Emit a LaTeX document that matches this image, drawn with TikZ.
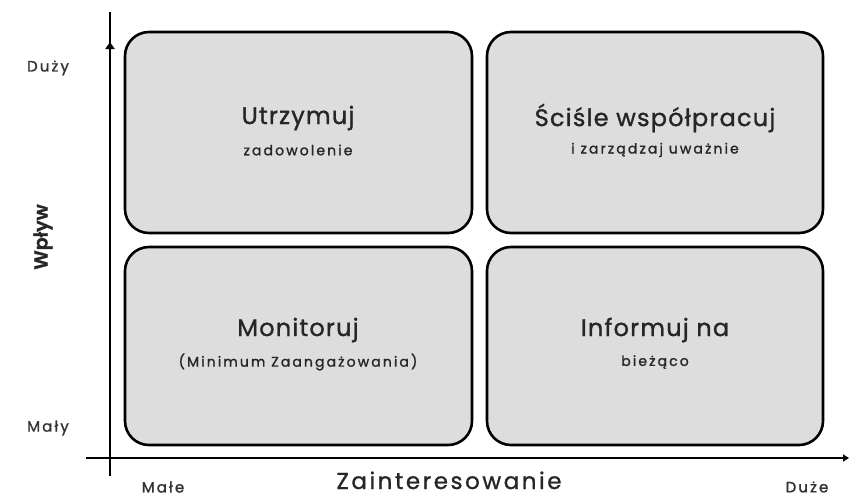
\documentclass[tikz,border=0pt]{standalone}
\usepackage{fontspec}
\setmainfont{Poppins}[FakeBold=1.2]
\newfontfamily\spacedA{Poppins}[FakeBold=1.2,LetterSpace=5]
\newfontfamily\spacedB{Poppins}[FakeBold=1.3,LetterSpace=15]
\newfontfamily\spacedC{Poppins}[FakeBold=1.4,LetterSpace=14]
\newfontfamily\spacedD{Poppins}[FakeBold=1.0,LetterSpace=11]
\newfontfamily\heavyW{Poppins SemiBold}[FakeBold=1.0]
\usetikzlibrary{arrows.meta}
\begin{document}
\begin{tikzpicture}[x=1pt,y=-1pt,
  quad/.style={draw=black,line width=2.6pt,fill=gray!27,rounded corners=24pt},
  big/.style={font=\spacedA\fontsize{24}{28}\selectfont,text=black!85},
  small/.style={font=\spacedB\fontsize{14}{17}\selectfont,text=black!85},
  axlab/.style={font=\spacedC\fontsize{15}{18}\selectfont,text=black!80},
  ax/.style={line width=2.2pt}]
\useasboundingbox (0,0) rectangle (849,499);
% boxes
\draw[quad] (125,32) rectangle (472,233);
\draw[quad] (487,32) rectangle (823,233);
\draw[quad] (125,247) rectangle (472,445);
\draw[quad] (487,247) rectangle (823,445);
\node[big] (tl) at (298,118) {Utrzymuj};
\node[small] (tl2) at (298,150) {zadowolenie};
\node[big] (tr) at (655,118) {Ściśle współpracuj};
\node[small] (tr2) at (655,150) {i zarządzaj uważnie};
\node[big] (bl) at (298,330) {Monitoruj};
\node[small] (bl2) at (298,362) {(Minimum Zaangażowania)};
\node[big] (br) at (655,330) {Informuj na};
\node[small] (br2) at (655,362) {bieżąco};
% axes
\coordinate (ybot) at (110,476);
\coordinate (ytop) at (110,12);
\coordinate (ymark) at (110,42);
\coordinate (xl) at (86,458);
\coordinate (xr) at (849,458);
\draw[ax] (ybot) -- (ytop);
\draw[ax,-{Triangle[length=7pt,width=9pt]}] (110,50) -- (ymark);
\draw[ax,-{Triangle[length=6pt,width=7pt]}] (xl) -- (xr);
% labels
\node[axlab] (duzy) at (48,68) {Duży};
\node[axlab] (maly) at (48,428) {Mały};
\node[axlab] (male) at (163,487) {Małe};
\node[axlab] (duze) at (807,487) {Duże};
\node[font=\spacedD\fontsize{23}{27}\selectfont,text=black!85,inner sep=0pt,anchor=base] (zain) at (449,489) {Zainteresowanie};
\node[font=\heavyW\fontsize{19}{22}\selectfont,text=black!85,rotate=90] (wplyw) at (43,237) {Wpływ};
\end{tikzpicture}
\end{document}
